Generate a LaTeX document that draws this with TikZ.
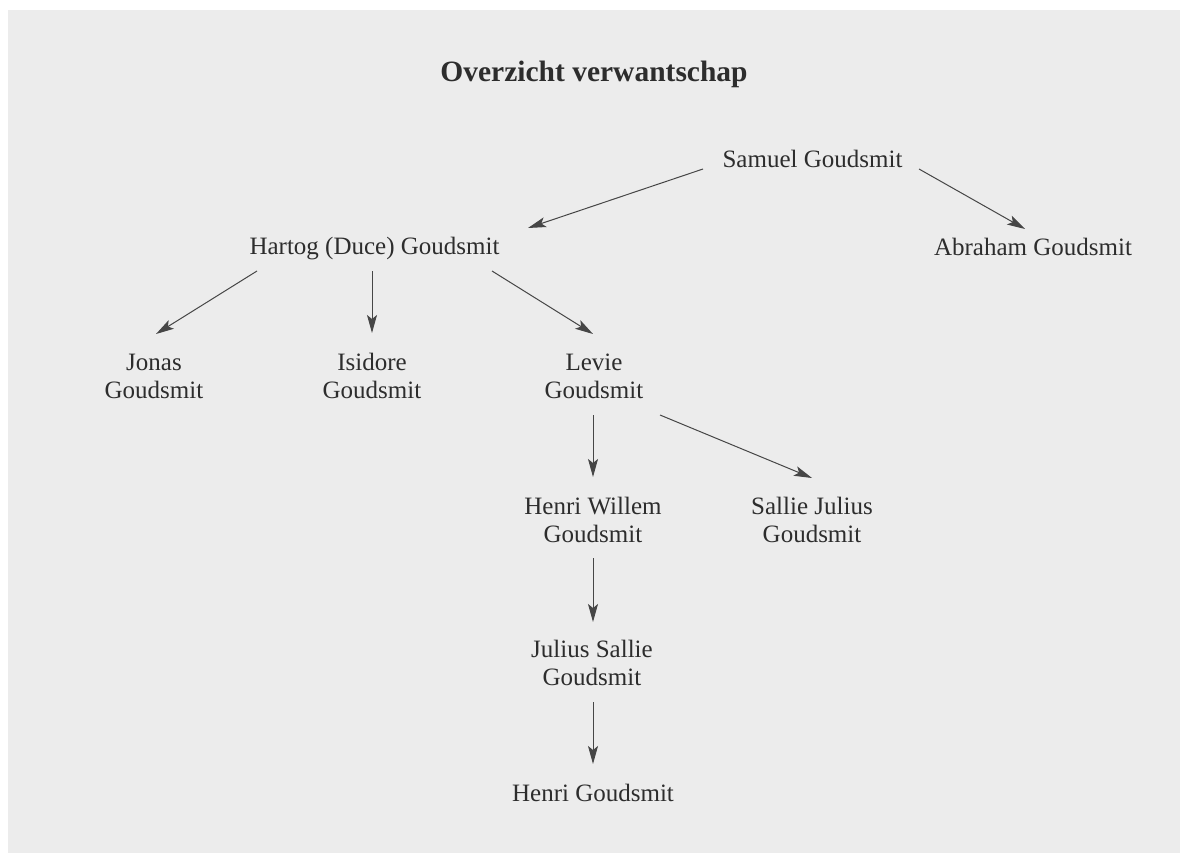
\documentclass[tikz,border=0pt]{standalone}
\usepackage{fontspec}
\setmainfont{Liberation Serif}
\usetikzlibrary{arrows.meta,calc}
\definecolor{paper}{RGB}{236,236,236}
\definecolor{ink}{RGB}{45,45,45}
\definecolor{linecol}{RGB}{70,70,70}
\newcommand{\twoline}[2]{\begin{tabular}[t]{@{}c@{}}#1\\#2\end{tabular}}
\begin{document}
\begin{tikzpicture}[x=1pt,y=-1pt,
  person/.style={anchor=base,inner sep=0pt,text=ink,font=\fontsize{25}{28.5}\selectfont},
  heading/.style={anchor=base,inner sep=0pt,text=ink,font=\fontsize{29.5}{34}\selectfont\bfseries},
  arr/.style={draw=linecol,line width=1pt,-{Stealth[length=18pt,width=10pt,inset=4pt]}}]
\useasboundingbox (0,0) rectangle (1180,853);
\fill[white] (0,0) rectangle (1180,853);
\fill[paper] (8,10) rectangle (1180,853);

\node[heading] (title) at (594,82) {Overzicht verwantschap};

\node[person] (samuel)  at (812.5,168) {Samuel Goudsmit};
\node[person] (hartog)  at (374.5,254) {Hartog (Duce) Goudsmit};
\node[person] (abraham) at (1033,255)  {Abraham Goudsmit};
\node[person] (jonas)   at (154,370)   {\twoline{Jonas}{Goudsmit}};
\node[person] (isidore) at (372,370)   {\twoline{Isidore}{Goudsmit}};
\node[person] (levie)   at (594,370)   {\twoline{Levie}{Goudsmit}};
\node[person] (henriw)  at (593,514)   {\twoline{Henri Willem}{Goudsmit}};
\node[person] (sallie)  at (812,514)   {\twoline{Sallie Julius}{Goudsmit}};
\node[person] (julius)  at (592,657)   {\twoline{Julius Sallie}{Goudsmit}};
\node[person] (henri)   at (593,801)   {Henri Goudsmit};

\draw[arr] ($(samuel.base)+(-109.5,1)$) -- ($(hartog.base)+(153.5,-26)$);
\draw[arr] ($(samuel.base)+(106.5,1)$) -- ($(abraham.base)+(-8,-26)$);
\draw[arr] ($(hartog.base)+(-117.5,17)$) -- ($(jonas.base)+(2,-36)$);
\draw[arr] ($(isidore.base)+(0,-99)$) -- ($(isidore.base)+(0,-37)$);
\draw[arr] ($(hartog.base)+(117.5,17)$) -- ($(levie.base)+(-1,-36)$);
\draw[arr] ($(levie.base)+(-1,45)$) -- ($(henriw.base)+(0,-37)$);
\draw[arr] ($(levie.base)+(66,45)$) -- ($(sallie.base)+(0,-36)$);
\draw[arr] ($(henriw.base)+(0,44)$) -- ($(julius.base)+(1,-35)$);
\draw[arr] ($(julius.base)+(1,45)$) -- ($(henri.base)+(0,-37)$);
\end{tikzpicture}
\end{document}
